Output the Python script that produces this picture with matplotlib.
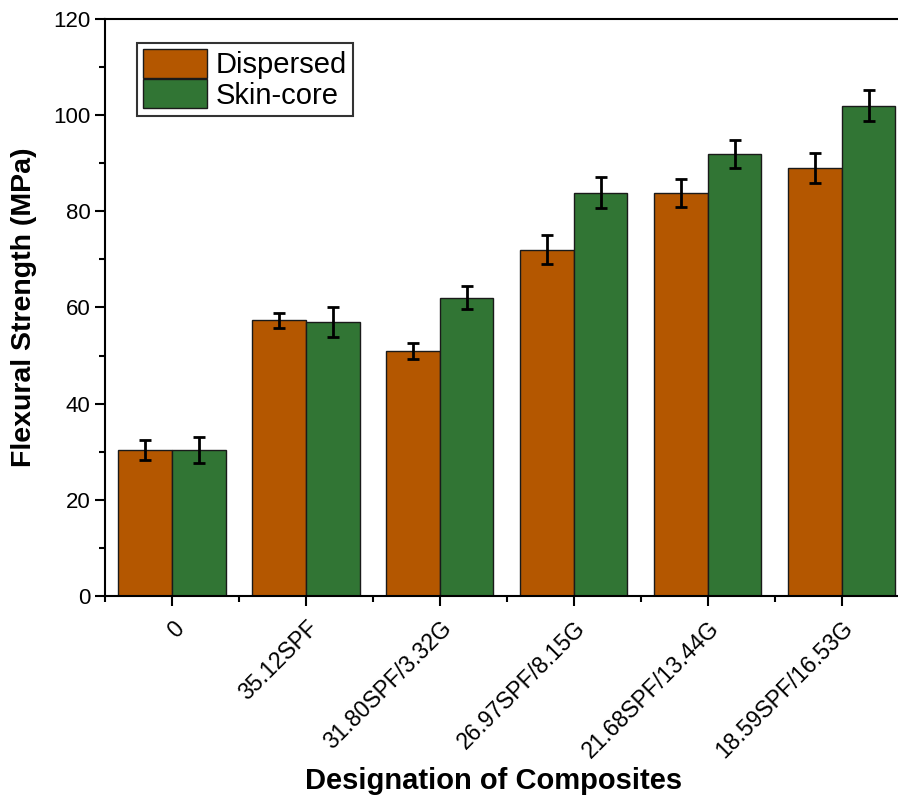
import numpy as np
import matplotlib.pyplot as plt
from matplotlib.ticker import MultipleLocator, FixedLocator

plt.rcParams['font.family'] = ['Liberation Sans', 'DejaVu Sans']

designations = ['0', '35.12SPF', '31.80SPF/3.32G', '26.97SPF/8.15G',
                '21.68SPF/13.44G', '18.59SPF/16.53G']
dispersed = [30.3, 57.3, 50.9, 72.0, 83.9, 89.0]
dispersed_err = [2.1, 1.6, 1.7, 3.0, 2.9, 3.1]
skin_core = [30.3, 57.0, 62.0, 83.9, 91.9, 102.0]
skin_core_err = [2.7, 3.1, 2.4, 3.3, 2.9, 3.2]

x = np.arange(len(designations))
w = 0.4

fig = plt.figure(figsize=(8.98, 7.96), dpi=100)
ax = fig.add_axes([0.117, 0.2513, 0.883, 0.7248])

err_kw = dict(ecolor='black', elinewidth=2, capsize=4.5, capthick=2)
ax.bar(x - w / 2, dispersed, w, yerr=dispersed_err, color='#B45700',
       edgecolor='#1a1a1a', linewidth=1, label='Dispersed', error_kw=err_kw)
ax.bar(x + w / 2, skin_core, w, yerr=skin_core_err, color='#317534',
       edgecolor='#1a1a1a', linewidth=1, label='Skin-core', error_kw=err_kw)

ax.set_xlim(-0.5, 5.42)
ax.set_ylim(0, 120)
ax.set_xticks(x)
ax.set_xticklabels(designations, rotation=45, ha='right', rotation_mode='anchor',
                   fontsize=16.5)
ax.xaxis.set_minor_locator(FixedLocator(np.arange(-0.5, 5.6, 1)))
ax.yaxis.set_major_locator(MultipleLocator(20))
ax.yaxis.set_minor_locator(MultipleLocator(10))
ax.tick_params(axis='y', labelsize=16)
ax.tick_params(which='major', direction='out', length=7, width=1.5)
ax.tick_params(which='minor', direction='out', length=4, width=1.5)
ax.tick_params(axis='x', which='major', pad=8)

for side in ['left', 'bottom', 'top']:
    ax.spines[side].set_linewidth(1.5)
ax.spines['right'].set_visible(False)

ax.set_xlabel('Designation of Composites', fontsize=21, fontweight='bold')
ax.xaxis.set_label_coords(0.49, -0.296)
ax.set_ylabel('Flexural Strength (MPa)', fontsize=20.5, fontweight='bold')
ax.yaxis.set_label_coords(-0.086, 0.5)

leg = ax.legend(loc='upper left', bbox_to_anchor=(0.04, 0.958), fontsize=21,
                frameon=True, fancybox=False, edgecolor='black',
                handlelength=2.2, handleheight=1.15, handletextpad=0.3,
                labelspacing=0.0, borderpad=0.2, borderaxespad=0)
leg.get_frame().set_linewidth(1.5)

fig.savefig('out.png', dpi=100)
